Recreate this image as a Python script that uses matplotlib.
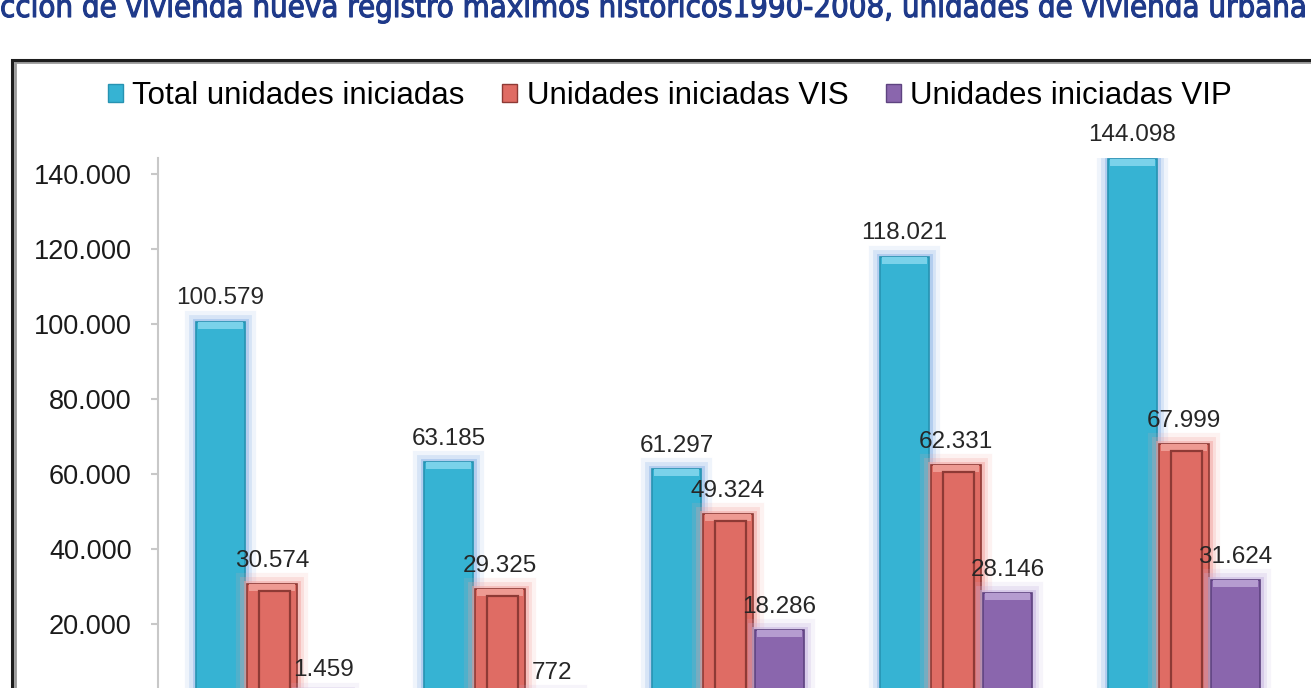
import matplotlib
matplotlib.use("Agg")
import matplotlib.pyplot as plt
import matplotlib.patheffects as pe
from matplotlib.patches import Rectangle, Patch
from matplotlib.ticker import FuncFormatter, MultipleLocator
import numpy as np

# ---------------- data ----------------
categories = ["G1", "G2", "G3", "G4", "G5"]
total_iniciadas = [100579, 63185, 61297, 118021, 144098]
vis_iniciadas = [30574, 29325, 49324, 62331, 67999]
vip_iniciadas = [1459, 772, 18286, 28146, 31624]
series_names = ["Total unidades iniciadas", "Unidades iniciadas VIS", "Unidades iniciadas VIP"]
title_text = "ccion de vivienda nueva registro maximos historicos1990-2008, unidades de vivienda urbana"

# ---------------- style ----------------
W, H = 1311, 688
plt.rcParams["font.family"] = ["Liberation Sans", "DejaVu Sans"]
fig = plt.figure(figsize=(W / 100, H / 100), dpi=100)
fig.patch.set_facecolor("white")

ax_left, ax_right = 158, 1298
ax_top, ax_zero = 158, 699
ax = fig.add_axes([ax_left / W, (H - ax_zero) / H,
                   (ax_right - ax_left) / W, (ax_zero - ax_top) / H])
ax.set_xlim(-0.5, len(categories) - 0.5)
ymax = 144300
ax.set_ylim(0, ymax)
px_per_unit = (ax_zero - ax_top) / ymax

x = np.arange(len(categories))
bw = 0.215
off = 0.226

styles = [
    dict(face="#36B3D3", edge="#2793B2", light="#7AD2EA", glow="#8FB7E8"),
    dict(face="#DF6C64", edge="#8E3A35", light="#EE9A92", glow="#F2A3A0"),
    dict(face="#8A66AD", edge="#5E4380", light="#B59CD0", glow="#C6B2E0"),
]
data = [total_iniciadas, vis_iniciadas, vip_iniciadas]

def glow(c):
    return [pe.Stroke(linewidth=16, foreground=c, alpha=0.14, joinstyle="miter"),
            pe.Stroke(linewidth=10, foreground=c, alpha=0.25, joinstyle="miter"),
            pe.Stroke(linewidth=5, foreground=c, alpha=0.5, joinstyle="miter"),
            pe.Normal()]

bevel = 7 / px_per_unit
for i, (vals, st) in enumerate(zip(data, styles)):
    xi = x + (i - 1) * off
    vals = np.array(vals)
    ax.bar(xi, vals, bw, color=st["face"], edgecolor=st["edge"], linewidth=1.2,
           path_effects=glow(st["glow"]), zorder=2)
    # top bevel facet
    ax.bar(xi, np.minimum(bevel, vals), bw * 0.92, bottom=np.maximum(vals - bevel, 0),
           color=st["light"], linewidth=0, zorder=3)
    if i == 1:
        # inner rim on red bars
        ax.bar(xi + bw * 0.05, np.maximum(vals - bevel, 0), bw * 0.62,
               color=st["face"], edgecolor=st["edge"], linewidth=1.6, zorder=3)
    for xv, v in zip(xi, vals):
        ax.annotate(f"{v:,}".replace(",", "."), (xv, v), xytext=(0, 9),
                    textcoords="offset points", ha="center", va="bottom",
                    fontsize=17.5, color="#262626", zorder=5)

# axes styling
for s in ["top", "right", "bottom"]:
    ax.spines[s].set_visible(False)
ax.spines["left"].set_color("#C8C8C8")
ax.spines["left"].set_linewidth(1.5)
ax.yaxis.set_major_locator(MultipleLocator(20000))
ax.yaxis.set_major_formatter(FuncFormatter(lambda v, p: f"{int(v):,}".replace(",", ".")))
ax.tick_params(axis="y", direction="out", length=5, width=1.5, color="#C8C8C8",
               pad=14, labelsize=19.5, labelcolor="#1A1A1A")
ax.set_xticks(x)
ax.set_xticklabels([])
ax.tick_params(axis="x", length=0)
ax.set_facecolor("none")

# legend
handles = [Patch(facecolor=st["face"], edgecolor=st["edge"], linewidth=1.0) for st in styles]
fig.legend(handles, series_names, loc="center", bbox_to_anchor=(670 / W, 1 - 96 / H),
           ncol=3, frameon=False, fontsize=22.5, handlelength=0.48, handleheight=0.48,
           handletextpad=0.3, columnspacing=1.2, borderaxespad=0)

# outer frame
fig.patches.append(Rectangle((12 / W + 0.002, -0.2), 1.2, (H - 60) / H + 0.2 - 0.003,
                             transform=fig.transFigure, fill=False,
                             edgecolor="#9A9A9A", linewidth=2.0, zorder=0))
fig.patches.append(Rectangle((12 / W, -0.2), 1.2, (H - 60) / H + 0.2,
                             transform=fig.transFigure, fill=False,
                             edgecolor="#1E1E1E", linewidth=2.2, zorder=1))

# title (cropped)
t = fig.text(0, 1 - 17 / H, title_text, ha="left", va="baseline", color="#1F3A8A",
             fontsize=22, family=["DejaVu Sans"], fontstretch="condensed",
             path_effects=[pe.withStroke(linewidth=0.8, foreground="#1F3A8A")])
fig.canvas.draw()
bb = t.get_window_extent()
t.set_fontsize(22 * 1308 / bb.width)

fig.savefig("out.png", dpi=100)
